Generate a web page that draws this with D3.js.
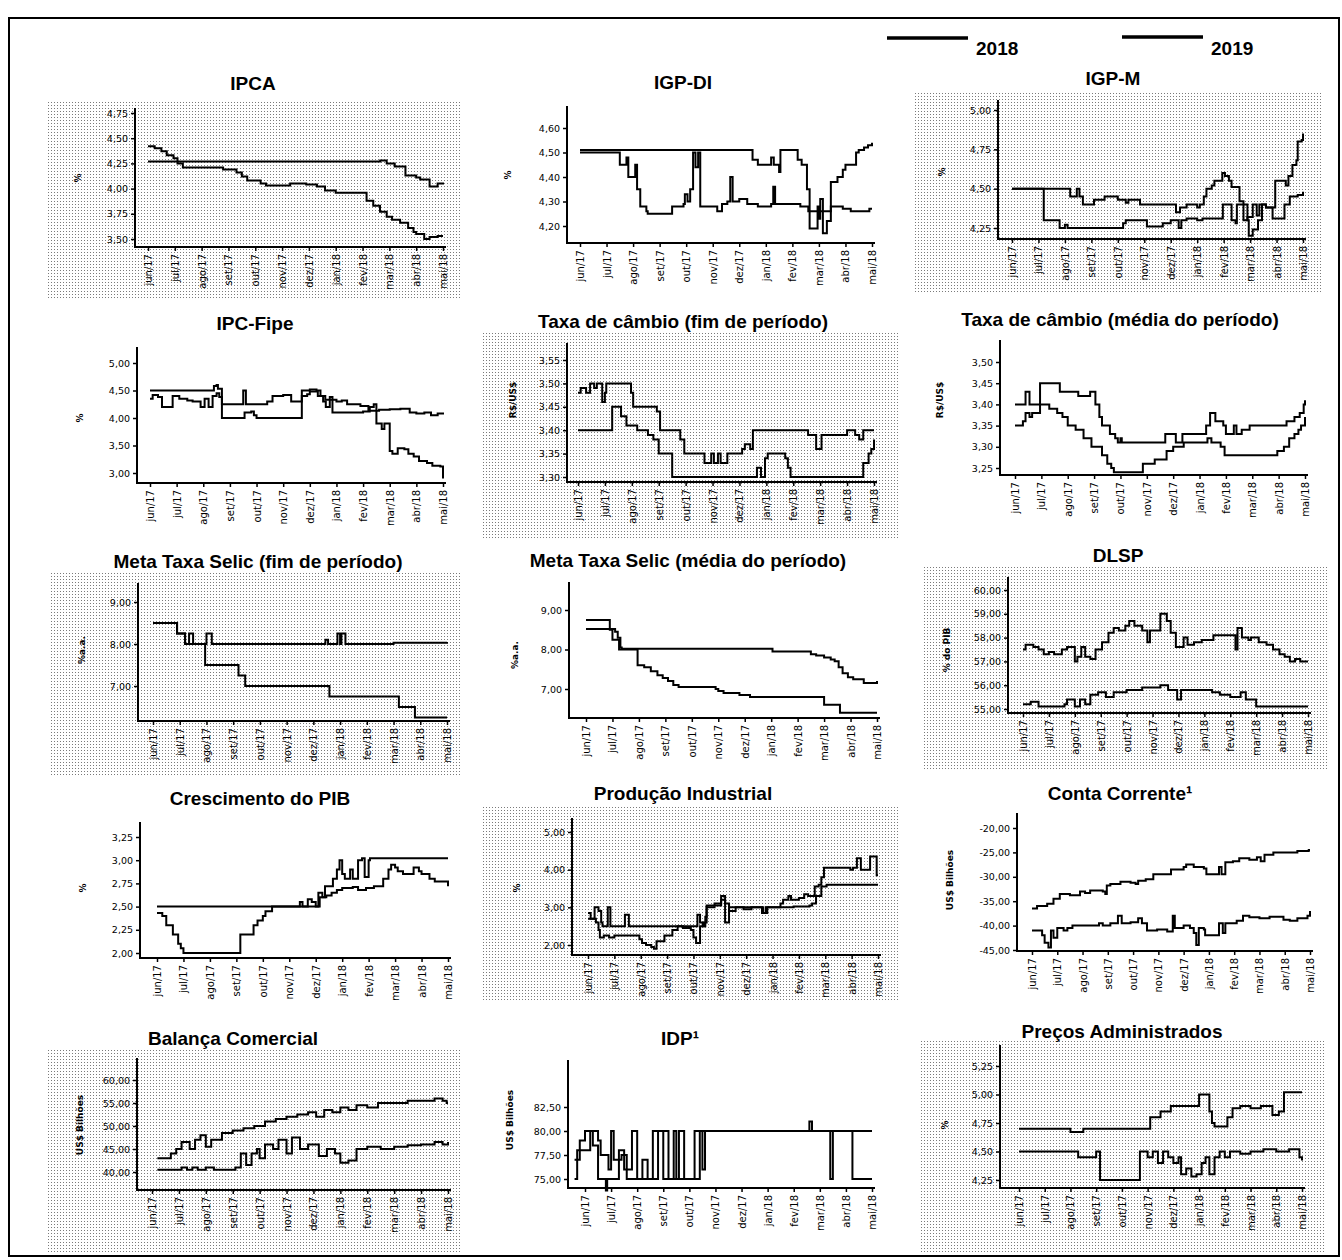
<!DOCTYPE html>
<html>
<head>
<meta charset="utf-8">
<script src="https://cdn.jsdelivr.net/npm/d3@7"></script>
<style>
  body { margin: 0; background: #fff; }
  svg { display: block; }
  .title { font-family: "Liberation Sans", Arial, sans-serif; font-weight: bold; font-size: 19px; }
  .tick text { font-family: "DejaVu Sans", sans-serif; font-size: 9.5px; fill: #000; }
  .xa .tick text { font-size: 10px; }
  .ylab { font-family: "DejaVu Sans", sans-serif; font-size: 9px; font-weight: bold; }
</style>
</head>
<body>
<div id="chart"></div>
<script>
// month labels on every x axis (t = 0..11)
const months = ["jun/17","jul/17","ago/17","set/17","out/17","nov/17","dez/17","jan/18","fev/18","mar/18","abr/18","mai/18"];

// each series: [month index, value], drawn as steps
const ipcaA = [[0,4.27],[8.66,4.28],[8.9,4.25],[9.2,4.22],[9.6,4.13],[10.0,4.11],[10.15,4.09],[10.5,4.02],[10.8,4.05],[11,4.06]];
const ipcaB = [[0,4.42],[0.25,4.40],[0.5,4.37],[0.7,4.33],[0.95,4.30],[1.1,4.25],[1.3,4.21],[2.8,4.19],[3.3,4.16],[3.5,4.12],[3.7,4.08],[4.2,4.05],[4.4,4.03],[5.3,4.05],[5.9,4.04],[6.3,4.02],[6.6,3.98],[7.0,3.96],[8.15,3.88],[8.4,3.83],[8.65,3.77],[8.9,3.72],[9.1,3.69],[9.4,3.66],[9.7,3.61],[9.9,3.57],[10.0,3.55],[10.3,3.50],[10.5,3.52],[10.8,3.53],[11,3.53]];

const igpdiA = [[0,4.51],[6.3,4.51],[6.5,4.47],[6.7,4.45],[7.2,4.48],[7.3,4.45],[7.5,4.42],[7.55,4.51],[8.2,4.47],[8.35,4.45],[8.55,4.35],[8.65,4.19],[8.95,4.28],[9.0,4.23],[9.05,4.31],[9.15,4.17],[9.3,4.22],[9.45,4.38],[9.7,4.40],[9.9,4.43],[10.0,4.45],[10.4,4.50],[10.5,4.51],[10.7,4.52],[10.85,4.53],[11,4.54]];
const igpdiB = [[0,4.50],[1.5,4.45],[1.75,4.48],[1.82,4.40],[2.08,4.45],[2.15,4.35],[2.27,4.28],[2.5,4.26],[2.55,4.25],[3.47,4.28],[3.9,4.29],[3.95,4.33],[4.05,4.30],[4.15,4.35],[4.26,4.50],[4.35,4.44],[4.45,4.50],[4.53,4.28],[5.17,4.26],[5.35,4.29],[5.55,4.30],[5.66,4.40],[5.75,4.30],[6.0,4.31],[6.3,4.29],[6.7,4.28],[7.2,4.29],[7.28,4.36],[7.35,4.29],[8.0,4.29],[8.3,4.28],[8.6,4.26],[9.45,4.28],[9.9,4.27],[10.2,4.26],[10.9,4.27],[11,4.27]];

const igpmA = [[0,4.50],[2.2,4.45],[2.45,4.50],[2.55,4.45],[2.68,4.40],[3.1,4.43],[3.5,4.45],[4.0,4.43],[4.3,4.41],[4.4,4.43],[4.84,4.40],[6.2,4.35],[6.35,4.38],[6.6,4.40],[7.0,4.38],[7.1,4.40],[7.25,4.45],[7.35,4.50],[7.55,4.52],[7.65,4.55],[7.95,4.60],[8.05,4.58],[8.2,4.55],[8.3,4.51],[8.6,4.42],[8.75,4.30],[8.9,4.32],[9.1,4.40],[9.25,4.33],[9.35,4.40],[9.6,4.38],[9.95,4.55],[10.35,4.52],[10.45,4.58],[10.6,4.65],[10.75,4.68],[10.8,4.80],[10.95,4.81],[11,4.85]];
const igpmB = [[0,4.50],[1.2,4.30],[1.8,4.25],[2.0,4.27],[2.1,4.25],[4.2,4.28],[4.3,4.30],[5.1,4.26],[5.7,4.28],[6.0,4.30],[6.3,4.25],[6.4,4.30],[6.6,4.31],[7.0,4.30],[7.2,4.31],[7.97,4.40],[8.3,4.30],[8.45,4.28],[8.5,4.40],[8.9,4.30],[8.95,4.20],[9.1,4.24],[9.3,4.30],[9.45,4.40],[9.6,4.38],[9.85,4.31],[10.3,4.40],[10.5,4.45],[10.8,4.46],[11,4.48]];

const fipeA = [[0,4.50],[2.4,4.58],[2.5,4.60],[2.55,4.53],[2.7,4.25],[3.5,4.50],[3.6,4.25],[4.4,4.30],[4.6,4.40],[5.0,4.42],[5.3,4.30],[5.7,4.50],[6.0,4.52],[6.25,4.50],[6.4,4.40],[6.58,4.33],[7.0,4.30],[7.2,4.32],[7.4,4.25],[7.9,4.22],[8.2,4.13],[8.6,4.15],[9.0,4.16],[9.4,4.17],[9.75,4.10],[10.0,4.08],[10.3,4.10],[10.55,4.05],[10.8,4.08],[11,4.10]];
const fipeB = [[0,4.35],[0.1,4.42],[0.3,4.38],[0.45,4.20],[0.85,4.40],[1.1,4.35],[1.4,4.32],[1.6,4.30],[1.9,4.20],[2.05,4.35],[2.2,4.20],[2.35,4.40],[2.5,4.45],[2.6,4.38],[2.7,4.00],[3.55,4.10],[3.8,4.12],[3.9,4.05],[4.0,4.00],[5.7,4.40],[5.9,4.43],[6.0,4.48],[6.3,4.40],[6.5,4.30],[6.6,4.20],[6.75,4.38],[6.85,4.10],[8.0,4.12],[8.25,4.20],[8.4,4.25],[8.5,3.90],[8.7,3.80],[8.8,3.90],[9.0,3.40],[9.1,3.35],[9.3,3.45],[9.55,3.43],[9.7,3.35],[9.9,3.30],[10.1,3.22],[10.4,3.18],[10.6,3.13],[10.9,3.12],[11,2.90]];

const cambioFimA = [[0,3.48],[0.1,3.49],[0.3,3.48],[0.45,3.50],[0.6,3.49],[0.7,3.50],[0.9,3.46],[1.0,3.48],[1.05,3.50],[1.97,3.48],[2.05,3.45],[2.93,3.44],[3.05,3.40],[3.8,3.38],[3.95,3.35],[4.7,3.33],[4.95,3.35],[5.05,3.33],[5.2,3.35],[5.3,3.33],[5.55,3.35],[6.1,3.36],[6.2,3.37],[6.4,3.36],[6.5,3.40],[8.55,3.39],[8.85,3.36],[9.05,3.39],[10.0,3.40],[10.3,3.39],[10.45,3.38],[10.6,3.40],[11,3.40]];
const cambioFimB = [[0,3.40],[1.27,3.45],[1.6,3.43],[1.8,3.41],[2.2,3.40],[2.6,3.39],[2.8,3.38],[3.0,3.35],[3.5,3.30],[6.65,3.32],[6.8,3.30],[6.95,3.34],[7.05,3.35],[7.7,3.34],[7.8,3.32],[7.9,3.30],[10.6,3.33],[10.8,3.35],[10.9,3.36],[11,3.38]];

const cambioMedA = [[0,3.40],[0.4,3.43],[0.55,3.40],[0.95,3.45],[1.7,3.43],[2.4,3.42],[2.85,3.43],[3.05,3.40],[3.2,3.37],[3.3,3.35],[3.6,3.33],[3.8,3.32],[3.9,3.31],[4.0,3.32],[4.05,3.31],[5.7,3.33],[6.1,3.31],[6.35,3.33],[7.25,3.35],[7.4,3.38],[7.6,3.36],[7.9,3.35],[8.0,3.33],[8.3,3.35],[8.4,3.33],[8.6,3.34],[8.9,3.35],[10.3,3.36],[10.6,3.37],[10.8,3.38],[10.95,3.40],[11,3.41]];
const cambioMedB = [[0,3.35],[0.3,3.36],[0.4,3.38],[0.55,3.37],[0.65,3.38],[0.95,3.40],[1.3,3.39],[1.6,3.38],[1.8,3.37],[2.0,3.35],[2.3,3.34],[2.6,3.32],[2.9,3.30],[3.3,3.28],[3.5,3.26],[3.65,3.25],[3.75,3.24],[4.85,3.26],[5.3,3.27],[5.75,3.29],[6.0,3.30],[6.4,3.31],[7.3,3.32],[7.45,3.31],[7.8,3.30],[7.95,3.28],[9.95,3.29],[10.2,3.30],[10.4,3.32],[10.6,3.33],[10.75,3.34],[10.85,3.35],[11,3.37]];

const selicFimA = [[0,8.50],[0.9,8.25],[1.2,8.00],[1.35,8.25],[1.5,8.00],[2.0,8.25],[2.2,8.00],[6.45,8.10],[6.55,8.00],[6.9,8.25],[7.0,8.00],[7.05,8.25],[7.2,8.00],[9.0,8.03],[11,8.05]];
const selicFimB = [[0,8.50],[0.9,8.25],[1.2,8.00],[1.95,7.50],[3.2,7.25],[3.45,7.00],[6.6,6.75],[9.2,6.50],[9.8,6.25],[11,6.25]];

const selicMedA = [[0,8.52],[1.1,8.45],[1.2,8.30],[1.3,8.05],[1.35,8.02],[7.05,7.95],[8.5,7.88],[8.7,7.85],[9.0,7.80],[9.25,7.75],[9.4,7.70],[9.55,7.55],[9.7,7.40],[9.9,7.30],[10.1,7.25],[10.5,7.15],[10.8,7.15],[11,7.20]];
const selicMedB = [[0,8.75],[0.9,8.50],[1.0,8.25],[1.25,8.00],[1.95,7.60],[2.2,7.55],[2.45,7.45],[2.7,7.35],[2.9,7.28],[3.1,7.20],[3.3,7.10],[3.5,7.05],[4.9,7.00],[5.0,6.95],[5.2,6.90],[5.8,6.85],[6.2,6.80],[9.0,6.60],[9.6,6.40],[11,6.40]];

const dlspA = [[0,57.5],[0.1,57.7],[0.4,57.6],[0.6,57.5],[0.8,57.3],[1.0,57.4],[1.2,57.3],[1.5,57.5],[1.7,57.6],[2.0,57.0],[2.1,57.2],[2.25,57.6],[2.4,57.2],[2.6,57.1],[2.8,57.5],[3.05,57.8],[3.3,58.2],[3.5,58.4],[3.7,58.3],[3.95,58.5],[4.1,58.7],[4.3,58.5],[4.6,58.3],[4.8,57.8],[4.9,58.3],[5.3,59.0],[5.55,58.7],[5.7,58.2],[5.9,57.6],[6.2,58.0],[6.35,57.7],[6.6,57.8],[6.9,57.9],[7.35,58.1],[8.2,57.5],[8.28,58.4],[8.45,58.0],[8.7,57.9],[8.8,58.0],[9.1,57.8],[9.4,57.7],[9.65,57.5],[9.9,57.3],[10.1,57.2],[10.3,57.0],[10.5,57.1],[10.7,57.0],[11,57.0]];
const dlspB = [[0,55.2],[0.3,55.3],[0.6,55.1],[1.6,55.2],[1.7,55.4],[2.0,55.1],[2.2,55.4],[2.4,55.2],[2.6,55.6],[2.9,55.7],[3.2,55.5],[3.5,55.7],[4.0,55.8],[4.6,55.9],[5.3,56.0],[5.6,55.8],[5.95,55.4],[6.1,55.8],[7.3,55.7],[7.6,55.6],[8.0,55.5],[8.4,55.7],[8.6,55.4],[9.0,55.1],[11,55.1]];

const pibA = [[0,2.50],[5.4,2.55],[5.5,2.50],[5.7,2.58],[5.85,2.55],[6.0,2.50],[6.1,2.65],[6.25,2.60],[6.35,2.72],[6.65,2.80],[6.8,2.90],[6.9,3.00],[7.0,2.85],[7.1,2.80],[7.3,2.90],[7.4,2.80],[7.6,3.00],[7.75,3.02],[7.85,2.82],[8.0,3.00],[8.05,3.02],[11,3.02]];
const pibB = [[0,2.43],[0.2,2.40],[0.35,2.30],[0.6,2.20],[0.8,2.10],[0.9,2.05],[1.0,2.00],[3.15,2.20],[3.65,2.30],[3.8,2.35],[4.0,2.40],[4.1,2.45],[4.35,2.50],[6.15,2.60],[6.4,2.62],[6.6,2.65],[6.8,2.68],[7.0,2.70],[7.4,2.71],[7.6,2.68],[7.9,2.70],[8.2,2.72],[8.55,2.80],[8.75,2.90],[8.85,2.95],[9.0,2.92],[9.1,2.88],[9.3,2.85],[9.7,2.92],[9.9,2.88],[10.0,2.85],[10.3,2.80],[10.5,2.77],[10.9,2.77],[11,2.72]];

const prodA = [[0,2.85],[0.1,2.70],[0.25,3.00],[0.4,2.90],[0.5,2.60],[0.55,2.50],[0.75,3.00],[0.85,2.50],[1.4,2.80],[1.55,2.50],[4.15,2.80],[4.25,2.60],[4.35,2.50],[4.45,2.75],[4.5,3.05],[5.05,3.30],[5.2,2.60],[5.35,3.00],[6.6,2.85],[6.75,3.00],[7.8,3.02],[8.4,3.05],[8.5,3.10],[8.65,3.30],[8.85,3.55],[9.05,3.60],[11,3.60]];
const prodB = [[0,2.70],[0.3,2.60],[0.4,2.40],[0.45,2.20],[0.6,2.25],[0.8,2.20],[1.0,2.25],[1.95,2.15],[2.05,2.05],[2.2,2.00],[2.4,1.95],[2.5,1.90],[2.6,2.10],[2.9,2.25],[3.2,2.40],[3.4,2.50],[3.6,2.45],[3.9,2.40],[4.0,2.20],[4.1,2.05],[4.25,2.50],[4.4,2.60],[4.5,3.00],[4.8,3.10],[5.05,3.20],[5.2,3.10],[5.35,2.90],[5.6,3.00],[5.9,2.95],[6.2,3.00],[6.65,2.85],[6.8,3.00],[7.3,3.10],[7.4,3.20],[7.6,3.30],[7.7,3.20],[8.0,3.25],[8.2,3.35],[8.35,3.30],[8.6,3.55],[8.75,3.60],[8.85,3.80],[8.95,4.05],[9.95,4.00],[10.05,4.05],[10.2,4.30],[10.35,4.00],[10.7,4.35],[10.95,3.85],[11,3.85]];

const contaA = [[0,-36.5],[0.2,-36.0],[0.6,-35.5],[0.85,-34.5],[1.1,-33.5],[1.5,-33.8],[1.9,-33.0],[2.1,-33.3],[2.3,-32.8],[2.8,-33.0],[2.9,-33.5],[2.96,-31.8],[3.1,-31.5],[3.5,-31.0],[3.9,-31.2],[4.1,-31.5],[4.2,-30.8],[4.5,-30.5],[4.8,-29.5],[5.5,-28.5],[6.0,-28.0],[6.1,-27.5],[6.4,-28.0],[6.8,-28.3],[6.9,-29.5],[7.4,-28.0],[7.5,-29.5],[7.65,-27.0],[7.95,-26.8],[8.2,-26.2],[8.6,-26.5],[8.9,-26.0],[9.05,-26.8],[9.2,-25.5],[9.55,-25.0],[10.5,-24.7],[10.95,-24.5],[11,-24.5]];
const contaB = [[0,-41.0],[0.4,-42.0],[0.5,-43.5],[0.65,-44.5],[0.75,-41.0],[0.85,-42.5],[1.0,-40.5],[1.25,-41.0],[1.4,-40.5],[1.6,-40.0],[2.65,-39.5],[2.8,-40.0],[3.1,-39.5],[3.4,-38.0],[3.55,-39.5],[3.9,-39.3],[4.2,-38.5],[4.35,-39.5],[4.55,-41.0],[4.95,-40.8],[5.35,-41.2],[5.57,-38.0],[5.65,-40.5],[6.0,-40.0],[6.25,-40.5],[6.4,-41.5],[6.5,-44.0],[6.6,-40.5],[6.8,-40.8],[6.85,-42.0],[7.4,-39.5],[7.55,-41.5],[7.65,-39.5],[8.1,-39.0],[8.35,-38.0],[8.6,-38.3],[9.0,-38.5],[9.4,-38.2],[9.95,-38.8],[10.2,-39.0],[10.5,-38.5],[10.9,-38.0],[11,-37.0]];

const balA = [[0.2,43.0],[0.7,44.0],[0.9,45.0],[1.1,46.5],[1.4,45.0],[1.6,47.0],[1.8,48.0],[2.0,45.5],[2.2,47.0],[2.6,48.5],[3.0,49.0],[3.4,49.5],[3.8,50.0],[4.2,51.0],[4.6,51.5],[5.0,52.0],[5.4,52.5],[5.8,53.0],[6.1,52.0],[6.4,53.5],[6.7,53.0],[7.0,54.0],[7.3,53.5],[7.6,54.5],[8.0,54.0],[8.4,55.0],[9.5,55.5],[10.5,56.0],[10.8,55.5],[10.95,55.0],[11,55.0]];
const balB = [[0.2,40.5],[1.1,41.0],[1.3,40.5],[1.5,41.0],[1.7,40.5],[2.0,41.0],[2.3,40.5],[3.1,41.0],[3.3,44.0],[3.5,41.5],[3.7,44.0],[3.9,45.0],[4.0,43.0],[4.2,46.0],[4.5,45.0],[4.7,47.0],[5.0,44.0],[5.2,47.5],[5.5,45.0],[5.8,46.0],[6.2,43.5],[6.5,45.0],[6.8,44.0],[7.0,42.0],[7.3,42.5],[7.6,45.0],[8.0,45.5],[8.5,45.0],[9.0,45.5],[9.5,45.8],[10.0,46.0],[10.5,46.5],[10.8,46.0],[11,46.5]];

const idpA = [[-0.4,75],[-0.3,78],[0.2,80],[0.5,79],[0.6,77.5],[0.9,76],[1.0,80],[1.1,77],[1.4,77.5],[1.6,75],[2.2,77],[2.4,75],[2.6,80],[3.0,75],[3.6,80],[3.8,75],[4.4,80],[9.4,75],[9.5,80],[10.25,75],[11,75]];
const idpB = [[-0.4,77],[-0.2,79],[0.0,80],[0.3,78.5],[0.5,75],[0.8,73.8],[0.85,75],[1.3,78],[1.5,76],[1.8,80],[2.0,75],[2.8,80],[3.2,75],[3.4,80],[3.5,75],[4.2,80],[4.5,76],[4.6,80],[8.6,81],[8.7,80],[11,80]];

const admA = [[0,4.70],[2.0,4.67],[2.5,4.70],[5.1,4.80],[5.5,4.85],[5.9,4.90],[7.0,5.00],[7.4,4.85],[7.5,4.75],[7.6,4.72],[8.1,4.80],[8.3,4.88],[8.6,4.90],[9.0,4.88],[9.4,4.90],[9.85,4.82],[10.1,4.85],[10.3,5.02],[11,5.02]];
const admB = [[0,4.50],[2.3,4.45],[3.0,4.50],[3.15,4.25],[4.7,4.50],[5.0,4.45],[5.2,4.50],[5.4,4.40],[5.6,4.50],[5.8,4.45],[6.0,4.40],[6.2,4.45],[6.3,4.30],[6.5,4.35],[6.7,4.28],[6.9,4.30],[7.1,4.40],[7.25,4.45],[7.4,4.30],[7.6,4.45],[7.8,4.50],[8.0,4.45],[8.2,4.50],[8.6,4.48],[9.0,4.50],[9.5,4.52],[10.0,4.50],[10.5,4.52],[10.9,4.45],[11,4.42]];

// y tick values per panel
const ticksIpca = [3.50, 3.75, 4.00, 4.25, 4.50, 4.75];
const ticksIgpdi = [4.20, 4.30, 4.40, 4.50, 4.60];
const ticksIgpm = [4.25, 4.50, 4.75, 5.00];
const ticksFipe = [3.00, 3.50, 4.00, 4.50, 5.00];
const ticksCambioFim = [3.30, 3.35, 3.40, 3.45, 3.50, 3.55];
const ticksCambioMed = [3.25, 3.30, 3.35, 3.40, 3.45, 3.50];
const ticksSelic = [7.00, 8.00, 9.00];
const ticksDlsp = [55, 56, 57, 58, 59, 60];
const ticksPib = [2.00, 2.25, 2.50, 2.75, 3.00, 3.25];
const ticksProd = [2.00, 3.00, 4.00, 5.00];
const ticksConta = [-45, -40, -35, -30, -25, -20];
const ticksBal = [40, 45, 50, 55, 60];
const ticksIdp = [75.00, 77.50, 80.00, 82.50];
const ticksAdm = [4.25, 4.50, 4.75, 5.00, 5.25];

// panel layout (pixels): ax = y axis x, top/bot = axis extent, p0/p1 = pixel of first/last tick
const panels = [
  {title: "IPCA", ylab: "%", s: [ipcaA, ipcaB], ticks: ticksIpca, ax: 135, top: 108, bot: 247, p0: 239, p1: 113, xs: 148, xe: 443, tx: 253, ty: 90, lx: 78, ly: 178, bg: [48, 100, 414, 200]},
  {title: "IGP-DI", ylab: "%", s: [igpdiA, igpdiB], ticks: ticksIgpdi, ax: 567, top: 106, bot: 243, p0: 226, p1: 128, xs: 580, xe: 872, tx: 683, ty: 89, lx: 508, ly: 175},
  {title: "IGP-M", ylab: "%", s: [igpmA, igpmB], ticks: ticksIgpm, ax: 998, top: 100, bot: 239, p0: 228, p1: 110, xs: 1012, xe: 1303, tx: 1113, ty: 85, lx: 942, ly: 172, bg: [915, 92, 408, 200]},
  {title: "IPC-Fipe", ylab: "%", s: [fipeA, fipeB], ticks: ticksFipe, ax: 137, top: 347, bot: 483, p0: 473, p1: 363, xs: 150, xe: 443, tx: 255, ty: 330, lx: 80, ly: 418},
  {title: "Taxa de câmbio (fim de período)", ylab: "R$/US$", s: [cambioFimA, cambioFimB], ticks: ticksCambioFim, ax: 567, top: 343, bot: 482, p0: 477, p1: 360, xs: 578, xe: 874, tx: 683, ty: 328, lx: 513, ly: 400, bg: [483, 332, 416, 206]},
  {title: "Taxa de câmbio (média do período)", ylab: "R$/US$", s: [cambioMedA, cambioMedB], ticks: ticksCambioMed, ax: 1000, top: 340, bot: 475, p0: 468, p1: 362, xs: 1015, xe: 1305, tx: 1120, ty: 326, lx: 940, ly: 400},
  {title: "Meta Taxa Selic (fim de período)", ylab: "%a.a.", s: [selicFimA, selicFimB], ticks: ticksSelic, ax: 138, top: 583, bot: 721, p0: 686, p1: 602, xs: 153, xe: 447, tx: 258, ty: 568, lx: 82, ly: 650, bg: [50, 572, 412, 204]},
  {title: "Meta Taxa Selic (média do período)", ylab: "%a.a.", s: [selicMedA, selicMedB], ticks: ticksSelic, ax: 569, top: 582, bot: 718, p0: 689, p1: 610, xs: 586, xe: 877, tx: 688, ty: 567, lx: 515, ly: 655},
  {title: "DLSP", ylab: "% do PIB", s: [dlspA, dlspB], ticks: ticksDlsp, ax: 1008, top: 577, bot: 713, p0: 709, p1: 590, xs: 1023, xe: 1308, tx: 1118, ty: 562, lx: 947, ly: 650, bg: [923, 565, 405, 205]},
  {title: "Crescimento do PIB", ylab: "%", s: [pibA, pibB], ticks: ticksPib, ax: 140, top: 822, bot: 958, p0: 953, p1: 837, xs: 157, xe: 448, tx: 260, ty: 805, lx: 83, ly: 888},
  {title: "Produção Industrial", ylab: "%", s: [prodA, prodB], ticks: ticksProd, ax: 572, top: 818, bot: 955, p0: 945, p1: 832, xs: 588, xe: 878, tx: 683, ty: 800, lx: 517, ly: 888, bg: [483, 807, 417, 195]},
  {title: "Conta Corrente¹", ylab: "US$ Bilhões", s: [contaA, contaB], ticks: ticksConta, ax: 1017, top: 813, bot: 951, p0: 950, p1: 828, xs: 1032, xe: 1310, tx: 1120, ty: 800, lx: 950, ly: 880},
  {title: "Balança Comercial", ylab: "US$ Bilhões", s: [balA, balB], ticks: ticksBal, ax: 137, top: 1058, bot: 1190, p0: 1172, p1: 1080, xs: 152, xe: 448, tx: 233, ty: 1045, lx: 80, ly: 1125, bg: [48, 1048, 414, 205]},
  {title: "IDP¹", ylab: "US$ Bilhões", s: [idpA, idpB], ticks: ticksIdp, ax: 568, top: 1060, bot: 1188, p0: 1179, p1: 1107, xs: 585, xe: 872, tx: 680, ty: 1045, lx: 510, ly: 1120},
  {title: "Preços Administrados", ylab: "%", s: [admA, admB], ticks: ticksAdm, ax: 1000, top: 1045, bot: 1188, p0: 1180, p1: 1066, xs: 1019, xe: 1302, tx: 1122, ty: 1038, lx: 945, ly: 1125, bg: [920, 1040, 405, 212]}
];

const br = d3.formatLocale({decimal: ",", thousands: ".", grouping: [3], currency: ["R$", ""], minus: "-"});
const fmt = br.format(".2f");

const svg = d3.select("#chart").append("svg")
  .attr("width", 1342)
  .attr("height", 1260);

// stipple texture of the scanned page
const pat = svg.append("defs").append("pattern")
  .attr("id", "dots")
  .attr("width", 3).attr("height", 3)
  .attr("patternUnits", "userSpaceOnUse");
pat.append("rect").attr("width", 1).attr("height", 1).attr("fill", "#7a7a7a");

// page frame
svg.append("rect")
  .attr("x", 9).attr("y", 18)
  .attr("width", 1330).attr("height", 1238)
  .attr("fill", "none")
  .attr("stroke", "#000")
  .attr("stroke-width", 2);

// legend
const legend = [{label: "2018", x1: 887, x2: 968, y: 38}, {label: "2019", x1: 1122, x2: 1203, y: 37}];
legend.forEach(l => {
  svg.append("line")
    .attr("x1", l.x1).attr("x2", l.x2)
    .attr("y1", l.y).attr("y2", l.y)
    .attr("stroke", "#000").attr("stroke-width", 3.5);
  svg.append("text")
    .attr("class", "title")
    .attr("x", l.x2 + 8).attr("y", 55)
    .text(l.label);
});

panels.forEach(p => {
  const g = svg.append("g");

  if (p.bg) {
    g.append("rect")
      .attr("x", p.bg[0]).attr("y", p.bg[1])
      .attr("width", p.bg[2]).attr("height", p.bg[3])
      .attr("fill", "url(#dots)");
  }

  const x = d3.scaleLinear().domain([0, 11]).range([p.xs, p.xe]);
  const y = d3.scaleLinear()
    .domain([p.ticks[0], p.ticks[p.ticks.length - 1]])
    .range([p.p0, p.p1]);

  g.append("text")
    .attr("class", "title")
    .attr("x", p.tx).attr("y", p.ty)
    .attr("text-anchor", "middle")
    .text(p.title);

  g.append("text")
    .attr("class", "ylab")
    .attr("transform", "translate(" + p.lx + "," + p.ly + ") rotate(-90)")
    .attr("text-anchor", "middle")
    .attr("dy", "0.35em")
    .text(p.ylab);

  // y axis
  const ya = g.append("g")
    .attr("transform", "translate(" + p.ax + ",0)")
    .call(d3.axisLeft(y).tickValues(p.ticks).tickSize(4).tickPadding(3).tickFormat(fmt));
  ya.select(".domain").remove();
  ya.selectAll(".tick line").attr("stroke-width", 1.5);

  // x axis
  const xa = g.append("g")
    .attr("class", "xa")
    .attr("transform", "translate(0," + p.bot + ")")
    .call(d3.axisBottom(x).tickValues(d3.range(12)).tickSize(4).tickFormat(i => months[i]));
  xa.select(".domain").remove();
  xa.selectAll(".tick line").attr("stroke-width", 1.5);
  xa.selectAll("text")
    .attr("transform", "rotate(-90)")
    .attr("x", -7).attr("y", 0)
    .attr("dy", "0.35em")
    .style("text-anchor", "end");

  g.append("path")
    .attr("d", "M" + p.ax + "," + p.top + "V" + p.bot + "H" + (p.xe + 3))
    .attr("fill", "none")
    .attr("stroke", "#000")
    .attr("stroke-width", 2);

  const line = d3.line()
    .x(d => x(d[0]))
    .y(d => y(d[1]))
    .curve(d3.curveStepAfter);

  p.s.forEach(series => {
    g.append("path")
      .datum(series)
      .attr("fill", "none")
      .attr("stroke", "#000")
      .attr("stroke-width", 2)
      .attr("d", line);
  });
});
</script>
</body>
</html>
